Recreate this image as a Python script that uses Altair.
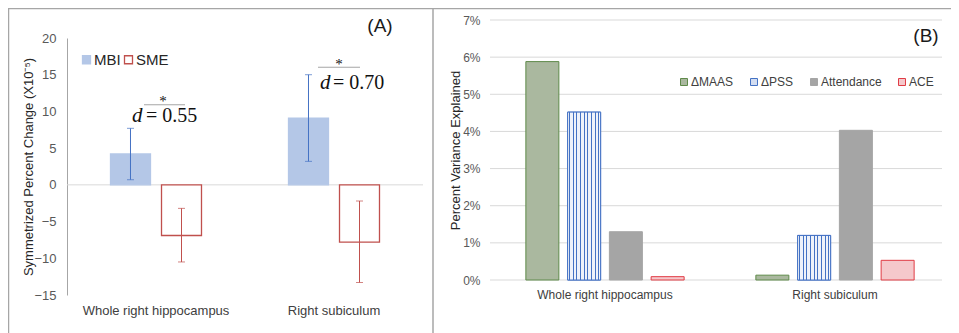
import altair as alt
import pandas as pd

# ---------------- data ----------------
regions = ["Whole right hippocampus", "Right subiculum"]

# Panel A: symmetrized percent change (x10^-5)
groups_a = ["MBI", "SME"]
mbi_vals = [4.2, 9.1]
mbi_lo = [0.7, 3.2]
mbi_hi = [7.7, 15.0]
sme_vals = [-6.9, -7.8]
sme_lo = [-10.5, -13.3]
sme_hi = [-3.2, -2.2]

# significance annotations (y in data units of panel A)
d_labels = ["= 0.55", "= 0.70"]
star_y = [10.8, 15.8]
line_y = [10.9, 16.0]
d_y = [8.6, 13.1]

# Panel B: percent variance explained
series_b = ["ΔMAAS", "ΔPSS", "Attendance", "ACE"]
whole_vals = [0.0588, 0.0452, 0.0130, 0.0009]
subic_vals = [0.0013, 0.0120, 0.0403, 0.0053]
ticks_a = [-15, -10, -5, 0, 5, 10, 15, 20]
ticks_b = [0.0, 0.01, 0.02, 0.03, 0.04, 0.05, 0.06, 0.07]

# ---------------- tables ----------------
dfA = pd.DataFrame({
    "region": regions * 2,
    "group": [groups_a[0]] * 2 + [groups_a[1]] * 2,
    "value": mbi_vals + sme_vals,
    "lo": mbi_lo + sme_lo,
    "hi": mbi_hi + sme_hi,
})
dfAnn = pd.DataFrame({"region": regions, "label": d_labels, "star": star_y,
                      "line": line_y, "dy": d_y})
dfB = pd.DataFrame({
    "region": [r for r in regions for _ in series_b],
    "series": series_b * 2,
    "value": whole_vals + subic_vals,
})
dfGridB = pd.DataFrame({"value": ticks_b})
dfZeroA = pd.DataFrame({"value": [0]})
dummy = pd.DataFrame({"k": [0]})

FONT = "Liberation Sans"
SERIF = "Liberation Serif"
W, H = 943, 325

# ---------------- panel A encodings ----------------
axA_x = alt.Axis(title=None, orient="bottom", offset=-38, domain=False, ticks=False,
                 labelPadding=9, labelFontSize=13, labelColor="#404040", labelAngle=0,
                 labelFont=FONT)
axA_y = alt.Axis(orient="left", offset=-59, values=ticks_a, grid=False, ticks=False,
                 domain=True, domainColor="#a6a6a6", domainWidth=1,
                 labelPadding=11, labelFontSize=13, labelColor="#595959", labelFont=FONT,
                 title="Symmetrized Percent Change (X10⁻⁵)", titleFontSize=13,
                 titleFont=FONT, titleFontWeight="normal", titleColor="#262626",
                 titleX=-39, titleY=158.5, titleBaseline="middle", titleAlign="center",
                 titleAngle=270)
sxA = alt.Scale(domain=regions, range=[59, 415], paddingInner=0, paddingOuter=0)
syA = alt.Scale(domain=[-15, 20], range=[287, 30], nice=False, zero=False)


def xA():
    return alt.X("region:N", sort=regions, scale=sxA, axis=axA_x)


def yA(field):
    return alt.Y(f"{field}:Q", scale=syA, axis=axA_y)


xoA = alt.XOffset("group:N", sort=groups_a,
                  scale=alt.Scale(domain=groups_a, paddingInner=0.216, paddingOuter=0.853))
legA = alt.Legend(title=None, orient="none", legendX=71, legendY=44, direction="horizontal",
                  symbolType="square", symbolSize=64, symbolStrokeWidth=1.3,
                  labelFontSize=15, labelColor="#262626", labelFont=FONT, labelOffset=0,
                  columnPadding=-1, padding=0)
errColor = alt.Color("group:N", scale=alt.Scale(domain=groups_a, range=["#4472c4", "#c0504d"]),
                     legend=None)

zeroA = alt.Chart(dfZeroA).mark_rule(color="#d9d9d9", strokeWidth=1).encode(
    y=yA("value"), x=alt.value(59), x2=alt.value(415))

barsA = alt.Chart(dfA).mark_bar(strokeWidth=1.3).encode(
    x=xA(), xOffset=xoA, y=yA("value"), y2=alt.Y2(datum=0),
    fill=alt.Fill("group:N", scale=alt.Scale(domain=groups_a, range=["#b4c7e7", "#ffffff"]),
                  legend=legA),
    stroke=alt.Stroke("group:N", scale=alt.Scale(domain=groups_a, range=["#b4c7e7", "#c0504d"]),
                      legend=legA),
)
errA = alt.Chart(dfA).mark_rule(strokeWidth=1).encode(
    x=xA(), xOffset=xoA, y=yA("lo"), y2="hi", color=errColor)
capLo = alt.Chart(dfA).mark_tick(orient="horizontal", size=7, thickness=1).encode(
    x=xA(), xOffset=xoA, y=yA("lo"), color=errColor)
capHi = alt.Chart(dfA).mark_tick(orient="horizontal", size=7, thickness=1).encode(
    x=xA(), xOffset=xoA, y=yA("hi"), color=errColor)

# annotation offsets (pixels from the category centre): star, line, line width, d, "= x"
ann_style = {
    regions[0]: (7, 8.5, 41, -24, -10),
    regions[1]: (5, 5, 42, -14, -1),
}
ann_layers = []
for reg in regions:
    s_dx, l_dx, l_w, d_dx, t_dx = ann_style[reg]
    base = alt.Chart(dfAnn).transform_filter(alt.datum.region == reg)
    ann_layers.append(base.mark_text(text="*", font=SERIF, fontSize=15, color="#111111",
                                     align="center", baseline="alphabetic", dx=s_dx).encode(
        x=xA(), y=yA("star")))
    ann_layers.append(base.mark_tick(orient="horizontal", size=l_w, thickness=1,
                                     color="#808080", xOffset=l_dx).encode(
        x=xA(), y=yA("line")))
    ann_layers.append(base.mark_text(text="d", font=SERIF, fontStyle="italic", fontSize=21,
                                     color="#111111", align="left", baseline="alphabetic",
                                     dx=d_dx).encode(x=xA(), y=yA("dy")))
    ann_layers.append(base.mark_text(font=SERIF, fontSize=20, color="#111111", align="left",
                                     baseline="alphabetic", dx=t_dx).encode(
        x=xA(), y=yA("dy"), text="label:N"))

panelA = alt.layer(zeroA, barsA, errA, capLo, capHi, *ann_layers)

# ---------------- panel B encodings ----------------
axB_x = alt.Axis(title=None, orient="bottom", offset=-53, domain=False, ticks=False,
                 labelPadding=9, labelFontSize=12, labelColor="#404040", labelAngle=0,
                 labelFont=FONT)
axB_y = alt.Axis(orient="left", offset=-482, values=ticks_b, format=".0%", grid=False,
                 ticks=False, domain=False, labelPadding=10, labelFontSize=12,
                 labelColor="#595959", labelFont=FONT,
                 title="Percent Variance Explained", titleFontSize=13, titleFont=FONT,
                 titleFontWeight="normal", titleColor="#262626",
                 titleX=-35, titleY=142, titleBaseline="middle", titleAlign="center",
                 titleAngle=270)
sxB = alt.Scale(domain=regions, range=[482, 942], paddingInner=0, paddingOuter=0)
syB = alt.Scale(domain=[0, 0.07], range=[272, 12], nice=False, zero=True)


def xB():
    return alt.X("region:N", sort=regions, scale=sxB, axis=axB_x)


def yB(field):
    return alt.Y(f"{field}:Q", scale=syB, axis=axB_y)


xoB = alt.XOffset("series:N", sort=series_b,
                  scale=alt.Scale(domain=series_b, paddingInner=0.2096, paddingOuter=0.859))
legB = alt.Legend(title=None, orient="none", legendX=670, legendY=68, direction="horizontal",
                  symbolType="square", symbolSize=49, symbolStrokeWidth=1,
                  labelFontSize=12, labelColor="#404040", labelFont=FONT, labelOffset=1,
                  columnPadding=14, padding=0)

gridB = alt.Chart(dfGridB).mark_rule(color="#d9d9d9", strokeWidth=1).encode(
    y=yB("value"), x=alt.value(482), x2=alt.value(934))

barsB = alt.Chart(dfB).mark_bar(strokeWidth=1).encode(
    x=xB(), xOffset=xoB, y=yB("value"), y2=alt.Y2(datum=0),
    fill=alt.Fill("series:N", scale=alt.Scale(domain=series_b,
                  range=["#aab89f", "#d3ddf1", "#a5a5a5", "#f5c8cb"]), legend=legB),
    stroke=alt.Stroke("series:N", scale=alt.Scale(domain=series_b,
                      range=["#5f8a4a", "#4472c4", "#a5a5a5", "#e03c45"]), legend=legB),
)

# vertical stripes for ΔPSS
stops = [{"offset": 0, "color": "#eef2fa"}]
n = 9
for k in range(n):
    c = (k + 0.5) / n
    a, b = c - 0.018, c + 0.018
    stops += [{"offset": a, "color": "#eef2fa"}, {"offset": a, "color": "#4472c4"},
              {"offset": b, "color": "#4472c4"}, {"offset": b, "color": "#eef2fa"}]
stops.append({"offset": 1, "color": "#eef2fa"})
stripe = {"gradient": "linear", "x1": 0, "y1": 0, "x2": 1, "y2": 0, "stops": stops}

pssB = alt.Chart(dfB).transform_filter(alt.datum.series == "ΔPSS").mark_bar(
    strokeWidth=1, stroke="#4472c4").encode(
    x=xB(), xOffset=xoB, y=yB("value"), y2=alt.Y2(datum=0), fill=alt.value(stripe))

panelB = alt.layer(gridB, barsB, pssB)

# ---------------- frame & panel labels ----------------
frame_col = "#a6a6a6"
frame = alt.layer(
    alt.Chart(dummy).mark_rule(color=frame_col, strokeWidth=1.5).encode(
        x=alt.value(0), x2=alt.value(W), y=alt.value(0.5)),
    alt.Chart(dummy).mark_rule(color=frame_col, strokeWidth=1.5).encode(
        x=alt.value(0.5), y=alt.value(0), y2=alt.value(H)),
    alt.Chart(dummy).mark_rule(color=frame_col, strokeWidth=1.5).encode(
        x=alt.value(425), y=alt.value(0), y2=alt.value(H)),
    alt.Chart(dummy).mark_text(text="(A)", font=FONT, fontSize=19, color="#1a1a1a",
                               align="center", baseline="middle").encode(
        x=alt.value(372), y=alt.value(18)),
    alt.Chart(dummy).mark_text(text="(B)", font=FONT, fontSize=19, color="#1a1a1a",
                               align="center", baseline="middle").encode(
        x=alt.value(918), y=alt.value(28)),
)

chart = alt.layer(panelA, panelB, frame).resolve_scale(
    x="independent", y="independent", fill="independent", stroke="independent",
    color="independent", xOffset="independent"
).properties(
    width=W, height=H, autosize=alt.AutoSizeParams(type="none"), padding=0,
    background="white"
).configure_view(stroke=None)

chart.save("out.html", embed_options={"renderer": "svg", "actions": False})
